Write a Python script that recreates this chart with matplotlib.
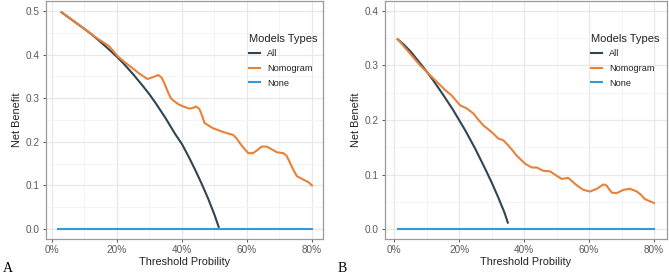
import numpy as np
import matplotlib.pyplot as plt
from matplotlib.ticker import FixedLocator, FuncFormatter

plt.rcParams['font.family'] = ['Liberation Sans', 'DejaVu Sans']

# ---- panel A data ----
a_all_x = [0.03, 0.05, 0.08, 0.10, 0.12, 0.15, 0.18, 0.20, 0.22, 0.25, 0.28,
           0.30, 0.32, 0.35, 0.38, 0.40, 0.42, 0.44, 0.46, 0.48, 0.50, 0.513]
a_all_y = [0.497, 0.486, 0.470, 0.459, 0.448, 0.429, 0.409, 0.395, 0.380, 0.355, 0.328,
           0.309, 0.288, 0.254, 0.217, 0.195, 0.167, 0.137, 0.105, 0.071, 0.033, 0.005]
a_nom_x = [0.03, 0.06, 0.10, 0.14, 0.175, 0.203, 0.225, 0.248, 0.268, 0.294, 0.31, 0.32,
           0.328, 0.338, 0.346, 0.356, 0.366, 0.38, 0.392, 0.408, 0.423, 0.435, 0.444,
           0.454, 0.462, 0.47, 0.485, 0.496, 0.511, 0.525, 0.537, 0.557, 0.568, 0.578,
           0.592, 0.604, 0.619, 0.632, 0.645, 0.661, 0.676, 0.692, 0.712, 0.722, 0.733,
           0.744, 0.754, 0.774, 0.788, 0.80]
a_nom_y = [0.497, 0.481, 0.459, 0.437, 0.420, 0.396, 0.382, 0.369, 0.357, 0.344, 0.348, 0.351,
           0.353, 0.347, 0.334, 0.316, 0.300, 0.291, 0.285, 0.280, 0.276, 0.278, 0.281,
           0.275, 0.260, 0.243, 0.236, 0.231, 0.227, 0.223, 0.220, 0.216, 0.208, 0.197,
           0.184, 0.174, 0.174, 0.181, 0.189, 0.189, 0.183, 0.176, 0.174, 0.168, 0.151,
           0.134, 0.121, 0.113, 0.108, 0.100]
a_none_x = [0.02, 0.80]
a_none_y = [0.0, 0.0]

# ---- panel B data ----
b_all_x = [0.011, 0.03, 0.05, 0.08, 0.10, 0.12, 0.15, 0.18, 0.20, 0.22, 0.25,
           0.28, 0.30, 0.32, 0.34, 0.35]
b_all_y = [0.348, 0.338, 0.326, 0.304, 0.289, 0.273, 0.247, 0.220, 0.200, 0.180, 0.147,
           0.111, 0.086, 0.059, 0.030, 0.012]
b_nom_x = [0.011, 0.04, 0.08, 0.116, 0.14, 0.157, 0.177, 0.19, 0.203, 0.224, 0.244, 0.26,
           0.275, 0.30, 0.321, 0.336, 0.352, 0.365, 0.377, 0.403, 0.424, 0.439, 0.459,
           0.48, 0.50, 0.516, 0.536, 0.557, 0.57, 0.583, 0.603, 0.624, 0.644, 0.654,
           0.662, 0.67, 0.685, 0.706, 0.726, 0.747, 0.76, 0.772, 0.80]
b_nom_y = [0.348, 0.328, 0.300, 0.279, 0.265, 0.255, 0.245, 0.236, 0.227, 0.221, 0.212, 0.200,
           0.190, 0.178, 0.166, 0.163, 0.153, 0.144, 0.135, 0.120, 0.113, 0.113, 0.107,
           0.106, 0.098, 0.092, 0.094, 0.083, 0.077, 0.072, 0.069, 0.074, 0.082, 0.080,
           0.073, 0.067, 0.066, 0.072, 0.074, 0.069, 0.063, 0.055, 0.048]
b_none_x = [0.011, 0.80]
b_none_y = [0.0, 0.0]

x_ticks = [0.0, 0.2, 0.4, 0.6, 0.8]
x_tick_labels = ['0%', '20%', '40%', '60%', '80%']
legend_labels = ['All', 'Nomogram', 'None']

c_all = '#2f4553'
c_nom = '#e8823a'
c_none = '#2e9be0'

fig = plt.figure(figsize=(6.69, 2.74), dpi=100)
W, H = 669, 274


def px_axes(l, r, t, b):
    return fig.add_axes([l / W, (H - b) / H, (r - l) / W, (b - t) / H])


def style(ax, xlim, ylim, yticks, yminor):
    ax.set_xlim(*xlim)
    ax.set_ylim(*ylim)
    ax.set_xticks(x_ticks)
    ax.set_xticklabels(x_tick_labels)
    ax.xaxis.set_minor_locator(FixedLocator([0.1, 0.3, 0.5, 0.7]))
    ax.set_yticks(yticks)
    ax.yaxis.set_major_formatter(FuncFormatter(lambda v, p: '%.1f' % v))
    ax.yaxis.set_minor_locator(FixedLocator(yminor))
    ax.grid(which='major', color='#e8e8e8', lw=0.9)
    ax.grid(which='minor', color='#f3f3f3', lw=0.6)
    ax.set_axisbelow(True)
    for s in ax.spines.values():
        s.set_color('#9a9a9a')
        s.set_linewidth(0.9)
    ax.tick_params(which='major', length=2.5, width=0.7, color='#555555',
                   labelsize=7.2, labelcolor='#5a5a5a', pad=2)
    ax.tick_params(which='minor', length=0)
    ax.set_xlabel('Threshold Probility', fontsize=7.8, color='#222222', labelpad=1.5)
    ax.set_ylabel('Net Benefit', fontsize=7.8, color='#222222', labelpad=3)


# panel A
axA = px_axes(46, 323, 1, 239)
axA.plot(a_all_x, a_all_y, color=c_all, lw=1.5, label=legend_labels[0])
axA.plot(a_nom_x, a_nom_y, color=c_nom, lw=1.5, label=legend_labels[1])
axA.plot(a_none_x, a_none_y, color=c_none, lw=1.5, label=legend_labels[2])
style(axA, (-0.018, 0.834), (-0.023, 0.523), [0, 0.1, 0.2, 0.3, 0.4, 0.5],
      [0.05, 0.15, 0.25, 0.35, 0.45])

# panel B
axB = px_axes(385, 667, 1, 239)
axB.plot(b_all_x, b_all_y, color=c_all, lw=1.5, label=legend_labels[0])
axB.plot(b_nom_x, b_nom_y, color=c_nom, lw=1.5, label=legend_labels[1])
axB.plot(b_none_x, b_none_y, color=c_none, lw=1.5, label=legend_labels[2])
style(axB, (-0.028, 0.84), (-0.018, 0.418), [0, 0.1, 0.2, 0.3, 0.4],
      [0.05, 0.15, 0.25, 0.35])

for ax, lx in [(axA, 244), (axB, 586)]:
    leg = ax.legend(title='Models Types', loc='upper left',
                    bbox_to_anchor=(lx / W, (H - 29) / H), bbox_transform=fig.transFigure,
                    frameon=False, fontsize=6.6, title_fontsize=8, handlelength=1.2,
                    handletextpad=0.8, labelspacing=0.62, borderpad=0)
    leg._legend_box.align = 'left'
    leg.get_title().set_color('#222222')
    for t in leg.get_texts():
        t.set_color('#222222')

fig.text(3 / W, (H - 272) / H, 'A', fontsize=10, family='Liberation Serif', va='baseline')
fig.text(338 / W, (H - 272) / H, 'B', fontsize=10, family='Liberation Serif', va='baseline')

fig.savefig('out.png', dpi=100)
